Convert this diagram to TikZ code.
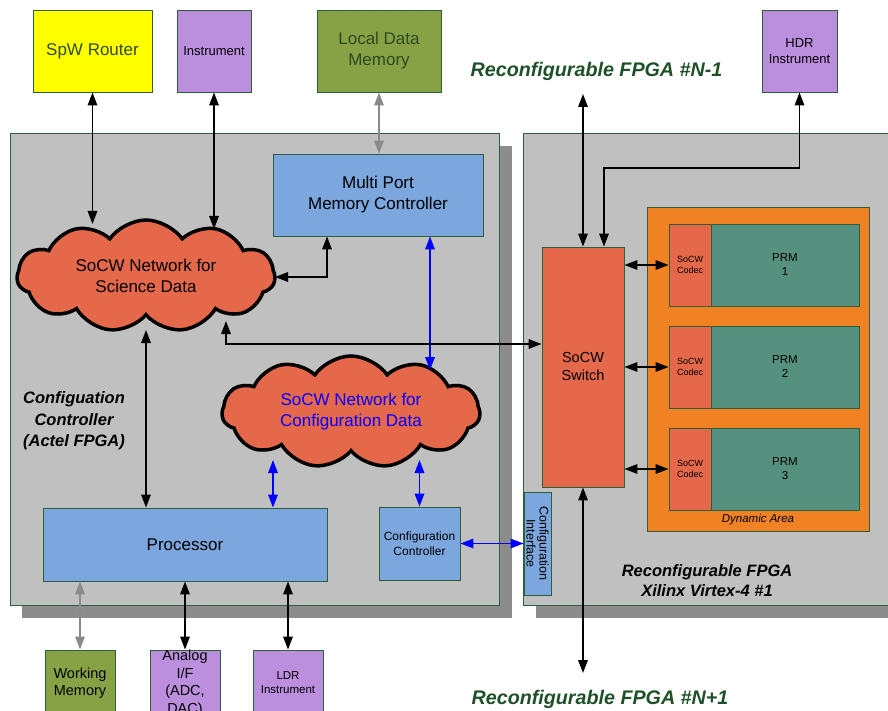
\documentclass[tikz,border=0pt]{standalone}
\usepackage{fontspec}
\setmainfont{Liberation Sans}
\usetikzlibrary{shapes.symbols,arrows.meta}
\definecolor{bord}{HTML}{2F5E3C}
\definecolor{gbox}{HTML}{C0C0C0}
\definecolor{shad}{HTML}{8C8C8C}
\definecolor{yel}{HTML}{FFFF00}
\definecolor{purp}{HTML}{BC8FDE}
\definecolor{olivebox}{HTML}{86A244}
\definecolor{bluebox}{HTML}{7BA7DE}
\definecolor{socw}{HTML}{E6684A}
\definecolor{dyn}{HTML}{F08224}
\definecolor{prm}{HTML}{56907F}
\definecolor{ttl}{HTML}{1F5128}
\definecolor{garr}{HTML}{8A8A8A}
\definecolor{dtxt}{HTML}{2E4A24}
\newcommand\fsz[2]{\fontsize{#1}{#2}\selectfont}
\begin{document}
\begin{tikzpicture}[x=1pt,y=-1pt,
  box/.style={draw=bord, line width=0.9pt, inner sep=0pt, align=center},
  cloudbox/.style={cloud, cloud puffs=11, cloud puff arc=110, cloud ignores aspect,
    draw=black, line width=3.5pt, fill=socw, inner sep=0pt, align=center},
  tip/.tip={Triangle[length=13pt,width=9.5pt]},
  arr/.style={line width=1.6pt, tip-tip},
  garrs/.style={arr, draw=garr, fill=garr},
  barr/.style={arr, draw=blue, fill=blue},
  ttlfont/.style={font=\fsz{19.7}{23}\bfseries\itshape, text=ttl},
]
\path[use as bounding box, clip] (0,0) rectangle (888,711);

% big panels with shadows
\fill[shad] (22,146) rectangle (512,618);
\fill[shad] (536,146) rectangle (900,618);
\draw[bord, line width=0.9pt, fill=gbox] (10,133) rectangle (499,605);
\draw[bord, line width=0.9pt, fill=gbox] (523,133) rectangle (900,605);

% top boxes
\node[box, fill=yel, minimum width=119, minimum height=82, text=dtxt, font=\fsz{17}{21}] (spw) at (92.5,51) {SpW Router};
\node[box, fill=purp, minimum width=74, minimum height=82, font=\fsz{13}{16}] (inst) at (214,51) {Instrument};
\node[box, fill=olivebox, minimum width=124, minimum height=82, text=dtxt, font=\fsz{17}{21}] (ldm) at (379,51) {Local Data\\Memory};
\node[box, fill=purp, minimum width=75, minimum height=82, font=\fsz{13}{16}] (hdr) at (799.5,51) {HDR\\Instrument};

% titles
\node[ttlfont] (tn1) at (596.5,71) {Reconfigurable FPGA \#N-1};
\node[ttlfont] (tp1) at (600,699) {Reconfigurable FPGA \#N+1};
\node[font=\fsz{16.5}{21.5}\bfseries\itshape, align=center] (tcc) at (74,421) {Configuation\\Controller\\(Actel FPGA)};
\node[font=\fsz{16.5}{20}\bfseries\itshape, align=center] (txl) at (707,581) {Reconfigurable FPGA\\Xilinx Virtex-4 \#1};

% left panel content
\node[box, fill=bluebox, minimum width=210, minimum height=82, font=\fsz{17}{21}] (mpmc) at (378,195) {Multi Port\\Memory Controller};
\node[box, fill=bluebox, minimum width=284, minimum height=73, font=\fsz{17}{21}] (proc) at (185,544.5) {Processor};
\node[box, fill=bluebox, minimum width=81, minimum height=73, font=\fsz{12}{14.5}] (cc) at (419.5,543.5) {Configuration\\Controller};
\node[box, fill=bluebox, minimum width=27, minimum height=103] (ci) at (537.5,543.5) {};
\node[rotate=-90, font=\fsz{12.5}{13}, align=center] (citext) at (ci.center) {Configuration\\Interface};

\node[cloudbox, minimum width=258, minimum height=112, font=\fsz{17}{21}] (sci) at (146,276) {SoCW Network for\\Science Data};
\node[cloudbox, minimum width=258, minimum height=112, font=\fsz{17}{21}, text=blue] (cfg) at (351,412) {SoCW Network for\\Configuration Data};

% right panel content
\node[box, fill=socw, minimum width=82, minimum height=240, font=\fsz{14.5}{18}] (sw) at (583,367) {SoCW\\Switch};
\node[box, fill=dyn, minimum width=222, minimum height=324] (dyn) at (758,369) {};
\node[font=\fsz{11.5}{14}\itshape] (dyntext) at (758,520) {Dynamic Area};
\foreach \i/\y in {1/265,2/367,3/469}{
  \node[box, fill=prm, minimum width=148, minimum height=82, font=\fsz{11.5}{14}] (p\i) at (785,\y) {PRM\\\i};
  \node[box, fill=socw, minimum width=42, minimum height=82, font=\fsz{9}{10.5}] (c\i) at (690,\y) {SoCW\\Codec};
}

% bottom boxes
\node[box, fill=olivebox, minimum width=70, minimum height=66, font=\fsz{14.5}{17.5}] (wm) at (80,683) {Working\\Memory};
\node[box, fill=purp, minimum width=70, minimum height=66, font=\fsz{14.5}{17.5}] (ana) at (185,683) {Analog\\I/F\\(ADC,\\DAC)};
\node[box, fill=purp, minimum width=70, minimum height=66, font=\fsz{11.5}{14}] (ldr) at (288,683) {LDR\\Instrument};

% contact points on the clouds and free ends
\coordinate (sciN1) at (92.5,224);
\coordinate (sciN2) at (214,229);
\coordinate (sciE) at (275,277);
\coordinate (sciS) at (146,330);
\coordinate (sciout) at (226,321);
\coordinate (cfgN) at (430,370);
\coordinate (cfgS1) at (273,460);
\coordinate (cfgS2) at (419.5,460);
\coordinate (nm1) at (583,94);
\coordinate (np1) at (583,673);

% connectors
\draw[arr] (spw.south) -- (sciN1);
\draw[arr] (inst.south) -- (sciN2);
\draw[garrs] (ldm.south) -- (ldm.south |- mpmc.north);
\draw[arr] (sciE) -| ([xshift=-51pt]mpmc.south);
\draw[barr] ([xshift=52pt]mpmc.south) -- (cfgN);
\draw[arr] (sciS) -- (sciS |- proc.north);
\draw[arr] (sciout) |- (sw.west |- 0,344);
\draw[barr] (cfgS1) -- (cfgS1 |- proc.north);
\draw[barr] (cc.north) -- (cfgS2);
\draw[barr] (cc.east) -- (ci.west);
\draw[arr] (sw.north) -- (nm1);
\draw[arr] (hdr.south) -- (hdr.south |- 0,168) -| ([xshift=21pt]sw.north);
\foreach \i in {1,2,3}{\draw[arr] (sw.east |- c\i.west) -- (c\i.west);}
\draw[arr] (sw.south) -- (np1);
\draw[garrs] (wm.north) -- (wm.north |- proc.south);
\draw[arr] (ana.north) -- (ana.north |- proc.south);
\draw[arr] (ldr.north) -- (ldr.north |- proc.south);
\end{tikzpicture}
\end{document}
